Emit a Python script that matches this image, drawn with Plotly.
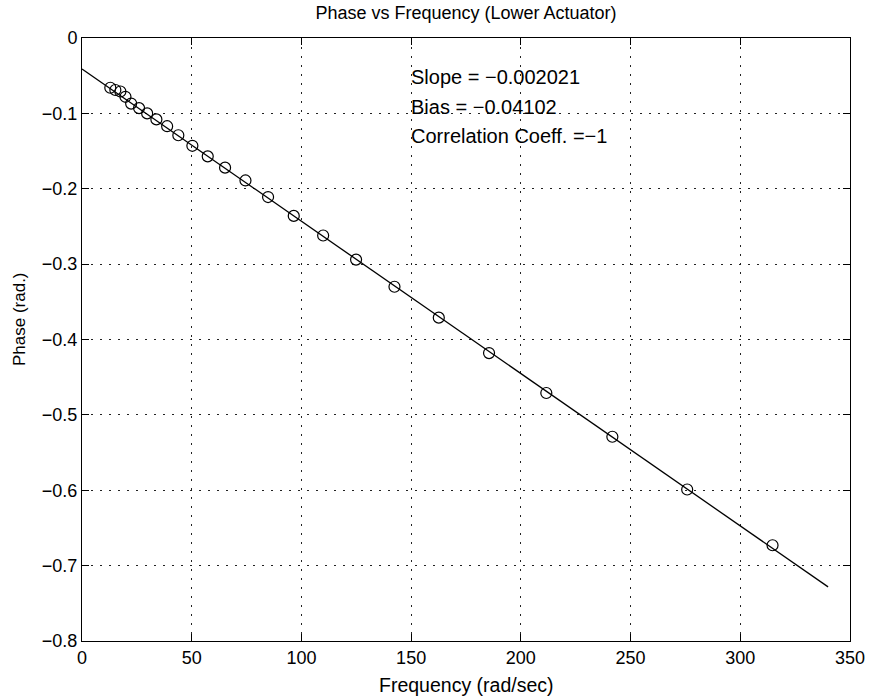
import plotly.graph_objects as go

# Measured data (frequency in rad/sec, phase in rad)
freq = [12.9, 15.2, 17.5, 19.8, 22.4, 26.0, 29.7, 33.9, 38.8, 43.9, 50.3, 57.3,
        65.2, 74.5, 84.8, 96.5, 109.9, 124.9, 142.4, 162.6, 185.5, 211.6,
        241.7, 275.8, 314.7]
phase = [-0.066, -0.069, -0.071, -0.078, -0.087, -0.093, -0.100, -0.108, -0.117,
         -0.129, -0.143, -0.157, -0.172, -0.189, -0.211, -0.236, -0.262, -0.294,
         -0.330, -0.371, -0.418, -0.471, -0.529, -0.599, -0.673]

# Linear fit parameters (as printed on the chart)
slope = -0.002021
bias = -0.04102
corr = -1
fit_x = [0, 340]
fit_y = [slope * x + bias for x in fit_x]

x_ticks = [0, 50, 100, 150, 200, 250, 300, 350]
y_ticks = [-0.8, -0.7, -0.6, -0.5, -0.4, -0.3, -0.2, -0.1, 0]

FONT = "Liberation Sans, Arial, Helvetica, sans-serif"

def m(v):
    return str(v).replace("-", "\u2212")

fig = go.Figure()
fig.add_trace(go.Scatter(x=fit_x, y=fit_y, mode="lines",
                         line=dict(color="black", width=1.3), showlegend=False))
fig.add_trace(go.Scatter(x=freq, y=phase, mode="markers",
                         marker=dict(symbol="circle-open", size=11, color="black",
                                     line=dict(color="black", width=1.2)),
                         showlegend=False))

lines = [f"Slope = {m(slope)}", f"Bias = {m(bias)}", f"Correlation Coeff. ={m(corr)}"]
ys = [-0.0512, -0.0910, -0.1301]
for t, yy in zip(lines, ys):
    fig.add_annotation(x=148.8, y=yy, xref="x", yref="y", text=t, showarrow=False,
                       xanchor="left", yanchor="middle",
                       font=dict(family=FONT, size=20, color="black"))

# Axis titles
fig.add_annotation(x=0.5, y=-0.073, xref="paper", yref="paper",
                   text="Frequency (rad/sec)", showarrow=False,
                   xanchor="center", yanchor="middle",
                   font=dict(family=FONT, size=19.5, color="black"))
fig.add_annotation(x=-0.0807, y=0.534, xref="paper", yref="paper",
                   text="Phase (rad.)", showarrow=False, textangle=-90,
                   xanchor="center", yanchor="middle",
                   font=dict(family=FONT, size=17, color="black"))

axis_common = dict(
    showline=True, linecolor="black", linewidth=1, mirror="ticks",
    ticks="inside", ticklen=7, tickcolor="black", tickwidth=1,
    showgrid=True, gridcolor="#222222", gridwidth=1, griddash="2px,7px",
    zeroline=False, tickfont=dict(family=FONT, size=18, color="black"),
    automargin=False,
)

fig.update_layout(
    width=872, height=696,
    margin=dict(l=82, r=22, t=38, b=55, autoexpand=False),
    paper_bgcolor="white", plot_bgcolor="white",
    title=dict(text="Phase vs Frequency (Lower Actuator)", x=0.5, xref="paper",
               y=1 - 13 / 696, yref="container", yanchor="middle",
               font=dict(family=FONT, size=18, color="black")),
    xaxis=dict(range=[0, 350], tickvals=x_ticks, ticktext=[str(v) for v in x_ticks],
               **axis_common),
    yaxis=dict(range=[-0.8, 0], tickvals=y_ticks,
               ticktext=[m(v) if v != 0 else "0" for v in y_ticks],
               **axis_common),
)

fig.write_html("out.html")
